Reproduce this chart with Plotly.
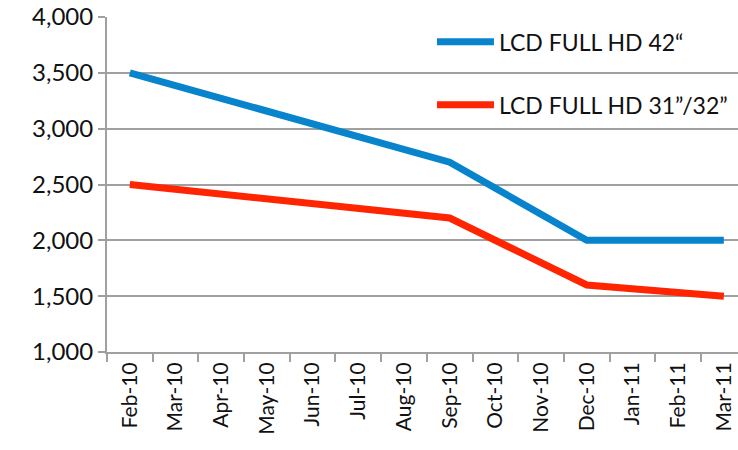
import plotly.graph_objects as go

months = ["Feb-10", "Mar-10", "Apr-10", "May-10", "Jun-10", "Jul-10", "Aug-10",
          "Sep-10", "Oct-10", "Nov-10", "Dec-10", "Jan-11", "Feb-11", "Mar-11"]
hd42 = [3500, None, None, None, None, None, None, 2700, None, None, 2000, None, None, 2000]
hd32 = [2500, None, None, None, None, None, None, 2200, None, None, 1600, None, None, 1500]

FONT = "Lato, 'Open Sans', sans-serif"
GRID = "#a0a0a0"

fig = go.Figure()
fig.add_trace(go.Scatter(x=months, y=hd42, name="LCD FULL HD 42“", mode="lines",
                         connectgaps=True, legendgroup="a",
                         line=dict(color="#0784CC", width=7)))
fig.add_trace(go.Scatter(x=months, y=hd32, name="LCD FULL HD 31”/32”", mode="lines",
                         connectgaps=True, legendgroup="b",
                         line=dict(color="#FF2500", width=7)))

fig.update_layout(
    width=738, height=450,
    margin=dict(l=107, r=0, t=17, b=98),
    paper_bgcolor="white", plot_bgcolor="white",
    font=dict(family=FONT, size=21, color="#111"),
    showlegend=True,
    legend=dict(x=0.515, y=0.99, xanchor="left", yanchor="top",
                bgcolor="rgba(0,0,0,0)",
                font=dict(family=FONT, size=23, color="#111"),
                traceorder="grouped", tracegroupgap=30, itemwidth=57),
    xaxis=dict(type="category", range=[-0.5, 13.31], tickangle=-90,
               tickmode="array", tickvals=months, ticktext=months,
               automargin=False,
               showline=True, linecolor=GRID, linewidth=2,
               ticks="outside", ticklen=8, tickcolor=GRID, tickwidth=1.5,
               tickson="boundaries", showgrid=False,
               tickfont=dict(family=FONT, size=21, color="#111")),
    yaxis=dict(range=[1000, 4000], dtick=500, tickformat=",d", automargin=False,
               showline=True, linecolor=GRID, linewidth=2,
               ticks="outside", ticklen=7, tickcolor=GRID, tickwidth=1.5,
               showgrid=True, gridcolor=GRID, gridwidth=2, zeroline=False,
               tickfont=dict(family=FONT, size=24, color="#111")),
)

fig.write_html("out.html", config={"displayModeBar": False},
               post_script="document.body.style.margin='0';")
